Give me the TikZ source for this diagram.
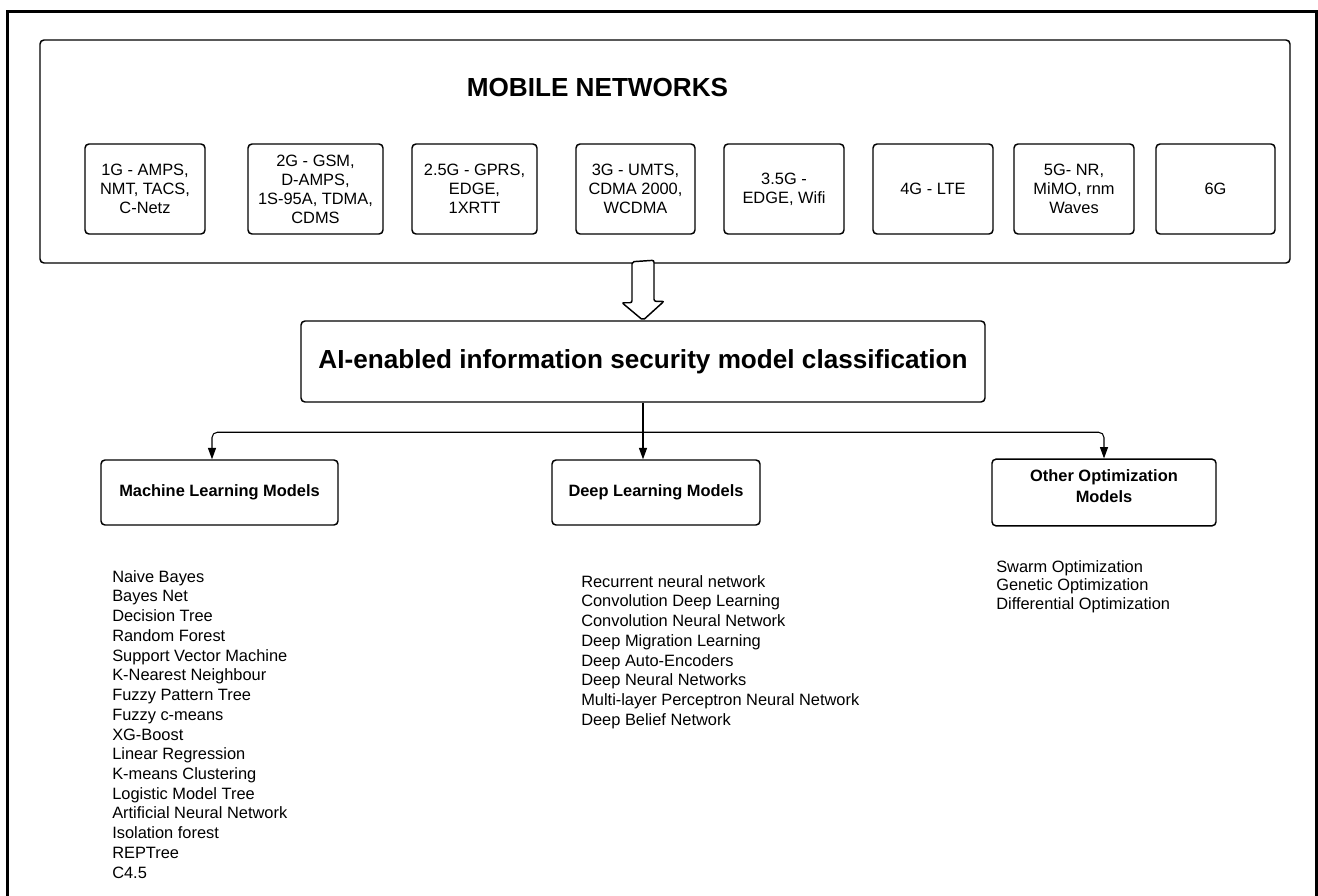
\documentclass[tikz,border=0pt]{standalone}
\usepackage{fontspec}
\setmainfont{Liberation Sans}
\usetikzlibrary{calc, arrows.meta}
\tikzset{>={Triangle[length=8.5pt, width=6pt]}}
\tikzset{gen box/.style={draw, rounded corners=3pt, line width=1.1pt, align=center,
          minimum height=67.5pt, inner sep=2pt, font=\fontsize{12.3}{14.25}\selectfont}}
\tikzset{model box/.style={draw, rounded corners=3pt, line width=1.1pt, align=center,
          minimum height=48.75pt, font=\bfseries\fontsize{12.3}{15.75}\selectfont}}
\tikzset{model list/.style={anchor=north west, align=left, inner sep=0pt,
          font=\fontsize{12.3}{14.8}\selectfont}}
\tikzset{big title/.style={font=\bfseries\fontsize{19.6}{23}\selectfont}}

\begin{document}
\begin{tikzpicture}[x=0.75pt, y=-0.75pt]
    \useasboundingbox (0,0) rectangle (1318,896);
    % outer frame
    \draw[line width=2.25pt] (7.5,896) -- (7.5,11.5) -- (1316.5,11.5) -- (1316.5,896);

    \node[draw, rounded corners=3pt, line width=1.1pt, minimum width=937.5pt,
          minimum height=167.25pt] (net) at (665,151.5) {};
    \node[big title] (net-title) at (597.5,87.5) {MOBILE NETWORKS};

    \node[gen box, minimum width=90pt] (g1) at (145,189) {1G - AMPS,\\NMT, TACS,\\C-Netz};
    \node[gen box, minimum width=101.25pt] (g2) at (315.5,189) {2G - GSM,\\D-AMPS,\\1S-95A, TDMA,\\CDMS};
    \node[gen box, minimum width=93.75pt] (g3) at (474.5,189) {2.5G - GPRS,\\EDGE,\\1XRTT};
    \node[gen box, minimum width=89.25pt] (g4) at (635.5,189) {3G - UMTS,\\CDMA 2000,\\WCDMA};
    \node[gen box, minimum width=90pt] (g5) at (784,189) {3.5G -\\EDGE, Wifi};
    \node[gen box, minimum width=90pt] (g6) at (933,189) {4G - LTE};
    \node[gen box, minimum width=90pt] (g7) at (1074,189) {5G- NR,\\MiMO, rnm\\Waves};
    \node[gen box, minimum width=89.25pt] (g8) at (1215.5,189) {6G};

    \node[draw, rounded corners=3pt, line width=1.1pt, minimum width=513pt,
          minimum height=60.75pt, big title] (ai) at (643,361.5)
    {AI-enabled information security model classification};

    % block arrow
    \draw[fill=white, line width=1.1pt, rounded corners=1.5pt]
    ($(ai.north |- net.south)+(-11,-2)$) -- ++(0,41) -- ++(-10,0) -- (ai.north)
    -- ++(21,-19) -- ++(-10,0) -- ++(0,-41) -- cycle;

    \node[model box, minimum width=177.75pt] (ml) at (219.5,492.5) {Machine Learning Models};
    \node[model box, minimum width=156pt] (dl) at (656,492.5) {Deep Learning Models};
    \node[model box, minimum width=168pt, minimum height=50pt, text depth=10pt] (om)
    at (1104,492.5) {Other Optimization\\Models};

    \coordinate (split) at ($(ai.south)+(0,29.5)$);
    \draw[->, line width=0.8pt] (ai.south) -- (ai.south |- dl.north);
    \draw[->, line width=0.8pt, rounded corners=4pt] (split) -| ($(ml.north)+(-7.5,0)$);
    \draw[->, line width=0.8pt, rounded corners=4pt] (split) -| (om.north);

    \node[model list] (ml-list) at (112,570)
    {Naive Bayes\\Bayes Net\\Decision Tree\\Random Forest\\Support Vector Machine\\
     K-Nearest Neighbour\\Fuzzy Pattern Tree\\Fuzzy c-means\\XG-Boost\\Linear Regression\\
     K-means Clustering\\Logistic Model Tree\\Artificial Neural Network\\Isolation forest\\
     REPTree\\C4.5};
    \node[model list] (dl-list) at (581,575)
    {Recurrent neural network\\Convolution Deep Learning\\Convolution Neural Network\\
     Deep Migration Learning\\Deep Auto-Encoders\\Deep Neural Networks\\
     Multi-layer Perceptron Neural Network\\Deep Belief Network};
    \node[model list, font=\fontsize{12.3}{13.9}\selectfont] (om-list) at (996,560)
    {Swarm Optimization\\Genetic Optimization\\Differential Optimization};
\end{tikzpicture}
\end{document}
